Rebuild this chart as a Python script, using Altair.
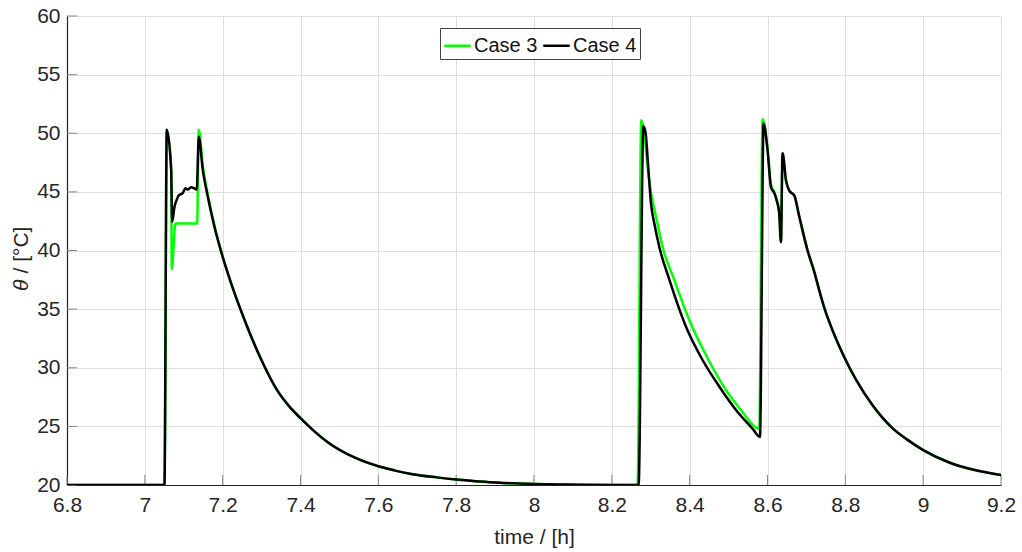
import altair as alt
import pandas as pd

# Case 3 (green)
t3 = [6.8, 7.0504, 7.0564, 7.0677, 7.0692, 7.0787, 7.1345, 7.1386, 7.149, 7.1617, 7.179,
      7.200, 7.2218, 7.256, 7.299, 7.3415, 7.37, 7.400, 7.435, 7.470, 7.5385, 7.600, 7.641,
      7.688, 7.75, 7.8, 7.85, 7.902, 7.95, 7.999, 8.06, 8.12, 8.2, 8.266,
      8.2757, 8.2834, 8.292, 8.3007, 8.3135, 8.3305, 8.3605,
      8.399, 8.4486, 8.4933, 8.5318, 8.5788, 8.5873, 8.600, 8.609, 8.6174, 8.6233, 8.630,
      8.6345, 8.6387, 8.6474, 8.6559, 8.6687, 8.6816, 8.703, 8.72, 8.733, 8.746, 8.767,
      8.798, 8.827, 8.870, 8.921, 8.96, 8.999, 9.067, 9.127, 9.2]
v3 = [20.0, 20.0, 50.3, 46.9, 38.4, 42.3, 42.3, 50.3, 47.2, 44.8, 42.1,
      39.5, 37.2, 34.1, 30.7, 28.0, 26.75, 25.7, 24.6, 23.65, 22.35, 21.6, 21.25,
      20.92, 20.65, 20.47, 20.33, 20.22, 20.14, 20.09, 20.05, 20.03, 20.01, 20.0,
      51.1, 50.0, 47.1, 44.9, 42.9, 40.3, 37.5,
      34.07, 30.66, 28.1, 26.4, 24.8, 51.2, 48.8, 45.6, 45.0, 44.4, 43.3,
      40.8, 48.3, 46.0, 45.1, 44.7, 42.9, 40.0, 38.2, 36.6, 35.1, 33.2,
      30.85, 29.0, 26.8, 24.85, 23.85, 23.0, 21.92, 21.32, 20.85]

# Case 4 (black)
t4 = [6.8, 7.0504, 7.0564, 7.0677, 7.0702, 7.0761, 7.0815, 7.0872, 7.0975, 7.1044, 7.1103,
      7.119, 7.1275, 7.1334, 7.1386, 7.149, 7.1617, 7.179, 7.200, 7.2218, 7.256, 7.299,
      7.3415, 7.37, 7.400, 7.435, 7.470, 7.5385, 7.600, 7.641, 7.688, 7.75, 7.8, 7.85,
      7.902, 7.95, 7.999, 8.06, 8.12, 8.2, 8.2688,
      8.281, 8.2869, 8.2935, 8.3007, 8.3092, 8.322, 8.348, 8.3906, 8.4332, 8.476, 8.519,
      8.5616, 8.5806, 8.59, 8.600, 8.609, 8.6174, 8.6233, 8.630, 8.6345, 8.6387, 8.6474,
      8.6559, 8.6687, 8.6816, 8.703, 8.72, 8.733, 8.746, 8.767, 8.798, 8.827, 8.870,
      8.921, 8.96, 8.999, 9.067, 9.127, 9.2]
v4 = [20.0, 20.0, 50.3, 46.9, 42.45, 43.7, 44.3, 44.7, 44.9, 45.3, 45.2,
      45.4, 45.3, 45.2, 49.7, 46.85, 44.6, 42.0, 39.46, 37.2, 34.1, 30.7,
      28.0, 26.75, 25.7, 24.6, 23.65, 22.35, 21.6, 21.25, 20.92, 20.65, 20.47, 20.33,
      20.22, 20.14, 20.09, 20.05, 20.03, 20.01, 20.0,
      50.6, 50.0, 47.1, 44.0, 42.3, 40.3, 37.5, 33.5, 30.66, 28.4, 26.4,
      24.8, 24.1, 50.8, 48.6, 45.4, 44.9, 44.3, 43.2, 40.7, 48.3, 46.0,
      45.1, 44.7, 42.9, 40.0, 38.2, 36.6, 35.1, 33.2, 30.85, 29.0, 26.8,
      24.85, 23.85, 23.0, 21.92, 21.32, 20.85]

series = ["Case 3", "Case 4"]
colors = ["#00ff00", "#000000"]
x_ticks = [6.8, 7.0, 7.2, 7.4, 7.6, 7.8, 8.0, 8.2, 8.4, 8.6, 8.8, 9.0, 9.2]
y_ticks = [20, 25, 30, 35, 40, 45, 50, 55, 60]
y_title_parts = ["θ", "/ [°C]"]

df = pd.concat([
    pd.DataFrame({"time": t3, "theta": v3, "series": series[0]}),
    pd.DataFrame({"time": t4, "theta": v4, "series": series[1]}),
], ignore_index=True)

W, H = 934, 469
FONT = "Liberation Sans"
TXT = "#262626"

xscale = alt.Scale(domain=[6.8, 9.2], nice=False, zero=False)
yscale = alt.Scale(domain=[20, 60], nice=False, zero=False)

lines = alt.Chart(df).mark_line(strokeWidth=2.5, clip=True, interpolate="monotone").encode(
    x=alt.X("time:Q", scale=xscale,
            axis=alt.Axis(values=x_ticks, format="~g", title="time / [h]",
                          grid=True, gridColor="#dedede", gridWidth=1,
                          domainColor="#222222", domainWidth=1.2, ticks=False,
                          labelFont=FONT, labelFontSize=21, labelColor=TXT,
                          labelPadding=9, labelFlush=False, labelOverlap=False,
                          titleFont=FONT, titleFontSize=21, titleColor=TXT,
                          titleFontWeight="normal", titleX=W / 2, titleY=52,
                          titleBaseline="middle", titleAlign="center")),
    y=alt.Y("theta:Q", scale=yscale,
            axis=alt.Axis(values=y_ticks, title=None,
                          grid=True, gridColor="#dedede", gridWidth=1,
                          domainColor="#222222", domainWidth=1.2, ticks=False,
                          labelFont=FONT, labelFontSize=21, labelColor=TXT,
                          labelPadding=7, labelOverlap=False)),
    color=alt.Color("series:N", scale=alt.Scale(domain=series, range=colors),
                    legend=alt.Legend(title=None, orient="none", legendX=373, legendY=12,
                                      direction="horizontal", symbolType="stroke",
                                      symbolSize=700, symbolStrokeWidth=2.5,
                                      labelFont=FONT, labelFontSize=20, labelColor="#111111",
                                      labelOffset=2, columnPadding=0, padding=3,
                                      fillColor="white", strokeColor="#444444",
                                      cornerRadius=0)),
)

ytick_df = pd.DataFrame({"v": y_ticks})
xtick_df = pd.DataFrame({"v": x_ticks})

yt = alt.Chart(ytick_df).mark_rule(color="#888888", strokeWidth=1).encode(
    y=alt.Y("v:Q", scale=yscale), x=alt.value(0), x2=alt.value(10))
xt = alt.Chart(xtick_df).mark_rule(color="#888888", strokeWidth=1).encode(
    x=alt.X("v:Q", scale=xscale), y=alt.value(H), y2=alt.value(H - 10))

# y-axis title: italic theta + rest, rotated (reads bottom to top)
t_theta = alt.Chart(pd.DataFrame({"s": [y_title_parts[0]]})).mark_text(
    angle=270, font=FONT, fontSize=21, fontStyle="italic", color=TXT,
    align="right", baseline="middle").encode(
    text="s:N", x=alt.value(-45), y=alt.value(H / 2 + 29))
t_rest = alt.Chart(pd.DataFrame({"s": [y_title_parts[1]]})).mark_text(
    angle=270, font=FONT, fontSize=21, color=TXT,
    align="left", baseline="middle").encode(
    text="s:N", x=alt.value(-45), y=alt.value(H / 2 + 23))

chart = alt.layer(yt, xt, lines, t_theta, t_rest).properties(
    width=W, height=H,
    autosize=alt.AutoSizeParams(type="none"),
    padding={"left": 67, "top": 16, "right": 21, "bottom": 67},
).configure_view(stroke=None).configure(background="white")

chart.save("out.html", embed_options={"renderer": "svg", "actions": False})
